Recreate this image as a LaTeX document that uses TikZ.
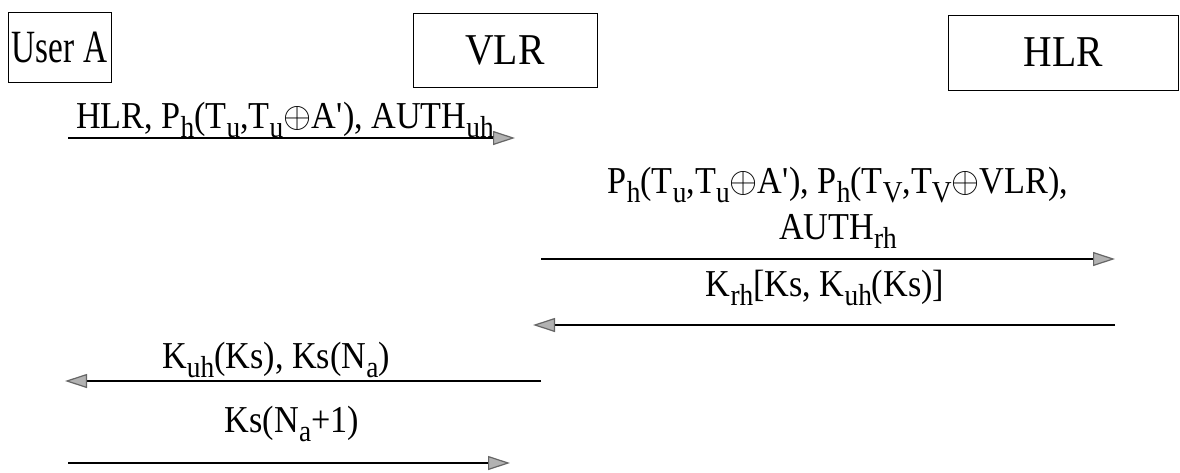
\documentclass[tikz,border=0pt]{standalone}
\usepackage{fontspec}
\usepackage{graphicx}
\setmainfont{Liberation Serif}[FakeStretch=0.9]
\usetikzlibrary{arrows.meta}
\newcommand\sbx[1]{\raisebox{-0.55ex}{\scalebox{0.8}{#1}}}
\newcommand\xo{\raisebox{0.05ex}{\scalebox{1.45}{$\oplus$}}}
\newcommand\pr{\textquotesingle}
\tikzset{
  entity/.style={draw, line width=1pt, inner sep=0pt, font=\fontsize{44}{48}\selectfont},
  msg/.style={font=\fontsize{38}{42}\selectfont, inner sep=0pt, anchor=base},
  flow/.style={line width=1.2pt, -{Triangle[length=22pt,width=14pt,color=gray!80!black,fill=gray!60]}}
}
\begin{document}
\begin{tikzpicture}[x=1pt,y=-1pt]
\useasboundingbox (0,0) rectangle (1180,472);
% entities
\node[entity, minimum width=103pt, minimum height=70pt] (ua) at (59.5,47) {\scalebox{0.84}[1.05]{User A}};
\node[entity, minimum width=184pt, minimum height=74pt] (vlr) at (505,50) {VLR};
\node[entity, minimum width=230pt, minimum height=75pt] (hlr) at (1063,52.5) {HLR};
% message 1
\coordinate (m1s) at (68,138);
\coordinate (m1e) at (515,138);
\draw[flow] (m1s) -- (m1e);
\node[msg] (l1) at (285,128) {HLR, P\sbx{h}(T\sbx{u},T\sbx{u}\xo A\pr), AUTH\sbx{uh}};
% message 2
\coordinate (m2s) at (541,259);
\coordinate (m2e) at (1115,259);
\draw[flow] (m2s) -- (m2e);
\node[msg, align=center] (l2) at (838,239) {P\sbx{h}(T\sbx{u},T\sbx{u}\xo A\pr), P\sbx{h}(T\sbx{V},T\sbx{V}\xo VLR),\\[4pt]AUTH\sbx{rh}};
% message 3
\coordinate (m3s) at (1115,325);
\coordinate (m3e) at (533,325);
\draw[flow] (m3s) -- (m3e);
\node[msg] (l3) at (825,296) {K\sbx{rh}[Ks, K\sbx{uh}(Ks)]};
% message 4
\coordinate (m4s) at (541,381);
\coordinate (m4e) at (65,381);
\draw[flow] (m4s) -- (m4e);
\node[msg] (l4) at (276,368) {K\sbx{uh}(Ks), Ks(N\sbx{a})};
% message 5
\coordinate (m5s) at (68,463);
\coordinate (m5e) at (510,463);
\draw[flow] (m5s) -- (m5e);
\node[msg] (l5) at (292,432) {Ks(N\sbx{a}+1)};
\end{tikzpicture}
\end{document}
